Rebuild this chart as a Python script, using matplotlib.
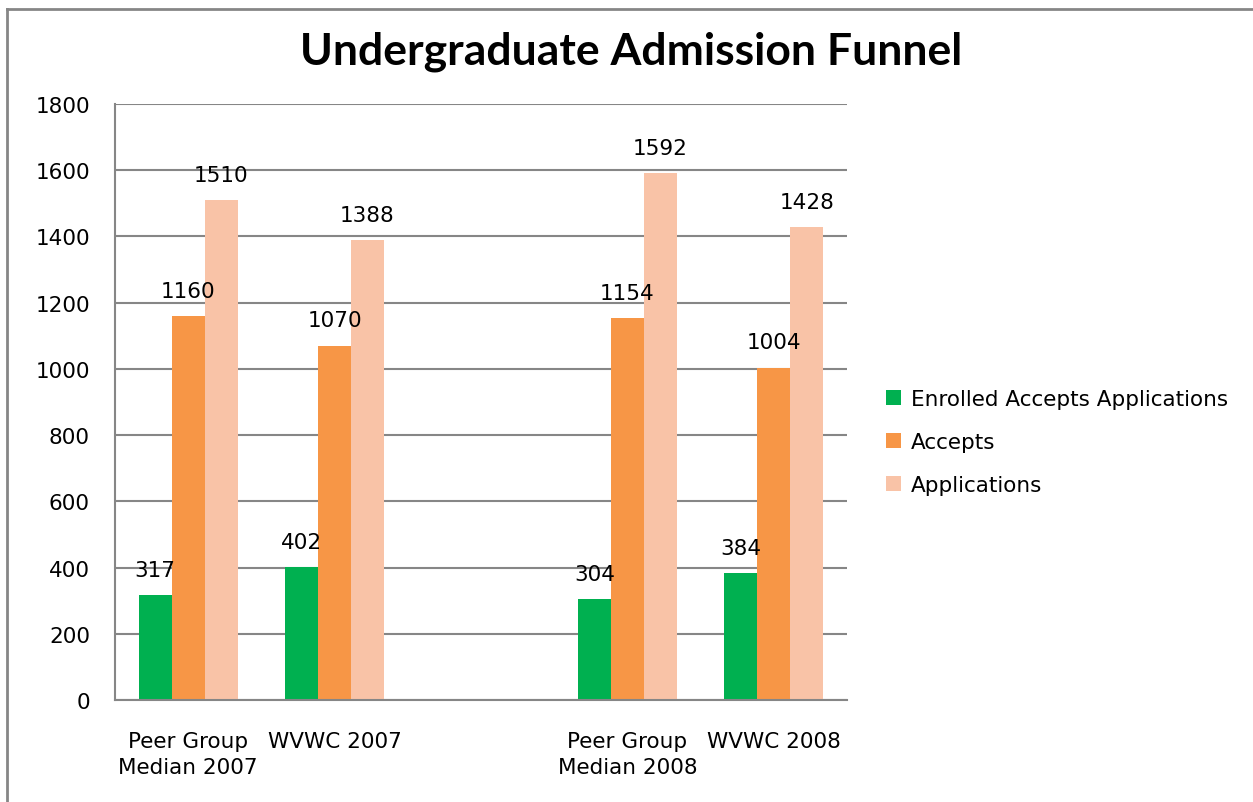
import numpy as np
import matplotlib as mpl
mpl.use('agg')
import matplotlib.pyplot as plt
from matplotlib.lines import Line2D

# data
categories = ['Peer Group\nMedian 2007', 'WVWC 2007', '', 'Peer Group\nMedian 2008', 'WVWC 2008']
enrolled = [317, 402, None, 304, 384]
accepts = [1160, 1070, None, 1154, 1004]
applications = [1510, 1388, None, 1592, 1428]
series_names = ['Enrolled Accepts Applications', 'Accepts', 'Applications']
colors = ['#00B050', '#F79646', '#F9C3A7']

plt.rcParams['font.family'] = ['DejaVu Sans']
fs = 15.5

fig = plt.figure(figsize=(12.53, 8.03), dpi=100)
ax = fig.add_axes([115/1253, 1 - 701/803, (847-115)/1253, (701-105)/803])

x = np.arange(len(categories))
w = 0.225
for k, (vals, c, name) in enumerate(zip([enrolled, accepts, applications], colors, series_names)):
    xs = [xi + (k - 1) * w for xi, v in zip(x, vals) if v is not None]
    vs = [v for v in vals if v is not None]
    ax.bar(xs, vs, width=w, color=c, label=name, zorder=2)
    for xi, v in zip(xs, vs):
        ax.annotate(str(v), (xi, v), xytext=(0, 11), textcoords='offset points',
                    ha='center', va='bottom', fontsize=fs)

ax.set_xlim(-0.5, len(categories) - 0.5)
ax.set_ylim(0, 1800)
ax.set_yticks(range(0, 1801, 200))
ax.yaxis.grid(True, color='#868686', lw=1.5, zorder=1)
ax.set_axisbelow(True)
ax.set_xticks(x)
ax.set_xticklabels(categories, fontsize=fs, linespacing=1.4)
ax.tick_params(axis='y', length=0, pad=18, labelsize=fs)
ax.tick_params(axis='x', length=0, pad=22)
for s in ['top', 'right']:
    ax.spines[s].set_visible(False)
for s in ['left', 'bottom']:
    ax.spines[s].set_color('#868686')
    ax.spines[s].set_linewidth(1.5)

fig.text(0.504, 1 - 52/803, 'Undergraduate Admission Funnel', ha='center', va='center',
         fontsize=32, fontweight='bold', family=['Lato', 'DejaVu Sans'])

ax.legend(loc='center left', bbox_to_anchor=(867/1253, 1 - 443/803), bbox_transform=fig.transFigure,
          frameon=False, fontsize=fs, handlelength=0.7, handleheight=0.7, handletextpad=0.45,
          labelspacing=1.05)

# outer chart border (left and top)
fig.add_artist(Line2D([7/1253, 7/1253], [0, 1 - 10/803], transform=fig.transFigure, color='#868686', lw=2))
fig.add_artist(Line2D([7/1253, 1], [1 - 10/803, 1 - 10/803], transform=fig.transFigure, color='#868686', lw=2))

fig.savefig('out.png', dpi=100)
